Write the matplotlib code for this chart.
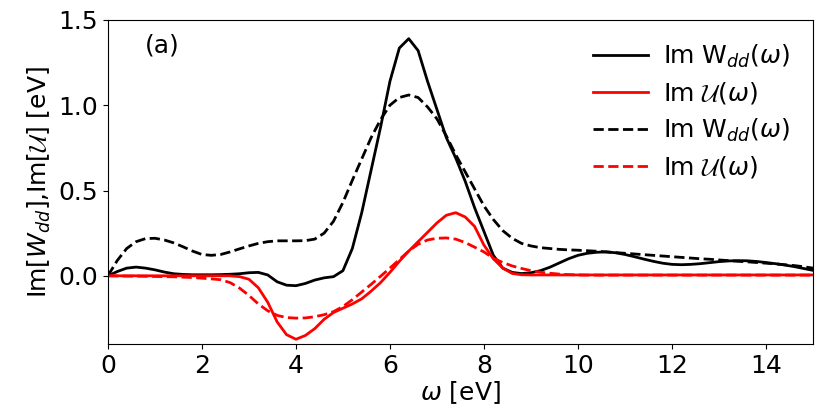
import numpy as np
import matplotlib
matplotlib.use("Agg")
from matplotlib import pyplot as plt

# photon energy grid [eV]
omega = np.round(np.arange(0, 15.01, 0.2), 2)

# Im W_dd, solid black
w_solid = [0.0, 0.025, 0.045, 0.051, 0.045, 0.035, 0.022, 0.012, 0.008, 0.006,
           0.006, 0.006, 0.007, 0.009, 0.012, 0.018, 0.02, 0.005, -0.035, -0.055,
           -0.058, -0.045, -0.025, -0.012, -0.005, 0.03, 0.16, 0.37, 0.62, 0.87,
           1.14, 1.335, 1.39, 1.32, 1.14, 0.975, 0.81, 0.69, 0.555, 0.40,
           0.26, 0.12, 0.045, 0.02, 0.013, 0.018, 0.03, 0.05, 0.075, 0.1,
           0.12, 0.132, 0.138, 0.14, 0.135, 0.125, 0.112, 0.098, 0.085, 0.074,
           0.067, 0.065, 0.067, 0.071, 0.077, 0.083, 0.087, 0.089, 0.088, 0.084,
           0.078, 0.071, 0.063, 0.054, 0.043, 0.032]

# Im U, solid red
u_solid = [0.0] * 14 + [
    -0.005, -0.02, -0.07, -0.155, -0.27, -0.345,
    -0.372, -0.35, -0.31, -0.255, -0.215, -0.19, -0.165, -0.135, -0.09, -0.04,
    0.02, 0.085, 0.145, 0.2, 0.255, 0.31, 0.355, 0.37, 0.345, 0.29,
    0.18, 0.1, 0.045, 0.014, 0.006, 0.005, 0.005, 0.005, 0.005, 0.005,
    0.005, 0.005, 0.005, 0.005, 0.005, 0.005, 0.005, 0.005, 0.005, 0.005,
    0.005, 0.005, 0.005, 0.005, 0.005, 0.005, 0.005, 0.005, 0.005, 0.005,
    0.005, 0.005, 0.005, 0.005, 0.005, 0.005]

# Im W_dd, dashed black
w_dashed = [0.0, 0.09, 0.16, 0.2, 0.218, 0.22, 0.21, 0.193, 0.17, 0.145,
            0.125, 0.12, 0.125, 0.14, 0.158, 0.175, 0.19, 0.2, 0.205, 0.205,
            0.205, 0.206, 0.215, 0.25, 0.32, 0.43, 0.56, 0.685, 0.81, 0.915,
            1.0, 1.045, 1.06, 1.045, 0.99, 0.92, 0.82, 0.71, 0.61, 0.51,
            0.41, 0.33, 0.265, 0.22, 0.19, 0.175, 0.165, 0.16, 0.155, 0.152,
            0.15, 0.147, 0.144, 0.14, 0.136, 0.132, 0.128, 0.124, 0.12, 0.116,
            0.112, 0.108, 0.104, 0.1, 0.097, 0.093, 0.089, 0.085, 0.082, 0.078,
            0.074, 0.07, 0.065, 0.06, 0.053, 0.045]

# Im U, dashed red
u_dashed = [0.0, -0.001, -0.002, -0.002, -0.003, -0.004, -0.005, -0.006, -0.008, -0.01,
            -0.014, -0.018, -0.023, -0.04, -0.072, -0.115, -0.165, -0.205, -0.232, -0.245,
            -0.248, -0.247, -0.24, -0.228, -0.21, -0.18, -0.14, -0.095, -0.05, -0.003,
            0.045, 0.095, 0.145, 0.185, 0.21, 0.22, 0.222, 0.215, 0.195, 0.168,
            0.14, 0.103, 0.078, 0.058, 0.043, 0.03, 0.021, 0.015, 0.01, 0.007,
            0.005, 0.004, 0.004, 0.004, 0.004, 0.004, 0.004, 0.004, 0.004, 0.004,
            0.004, 0.004, 0.004, 0.004, 0.004, 0.004, 0.004, 0.004, 0.004, 0.004,
            0.004, 0.004, 0.004, 0.004, 0.004, 0.004]

labels = [r"Im W$_{dd}(\omega)$", r"Im $\mathcal{U}(\omega)$",
          r"Im W$_{dd}(\omega)$", r"Im $\mathcal{U}(\omega)$"]

plt.rcParams["font.size"] = 18
plt.rcParams["mathtext.fontset"] = "custom"
plt.rcParams["mathtext.rm"] = "DejaVu Sans"
plt.rcParams["mathtext.it"] = "DejaVu Sans:italic"
plt.rcParams["mathtext.cal"] = "cmsy10"

fig = plt.figure(figsize=(8.3, 4.15), dpi=100)
ax = fig.add_axes([0.130, 0.171, 0.8495, 0.781])

ax.plot(omega, w_solid, color="black", lw=2, label=labels[0])
ax.plot(omega, u_solid, color="red", lw=2, label=labels[1])
ax.plot(omega, w_dashed, color="black", lw=2, ls="--", label=labels[2])
ax.plot(omega, u_dashed, color="red", lw=2, ls="--", label=labels[3])

ax.set_xlim(0, 15)
ax.set_ylim(-0.4, 1.5)
ax.set_xticks(np.arange(0, 15, 2))
ax.set_yticks([0.0, 0.5, 1.0, 1.5])
ax.set_xlabel(r"$\omega$ [eV]", labelpad=1)
ax.set_ylabel(r"Im[$W_{dd}$],Im[$\mathcal{U}$] [eV]", labelpad=4)
ax.text(0.052, 0.92, "(a)", transform=ax.transAxes, va="center")
ax.legend(loc="upper right", frameon=False, handlelength=2.2, handletextpad=0.6,
          labelspacing=0.42, borderaxespad=0.5)

fig.savefig("out.png", dpi=100)
